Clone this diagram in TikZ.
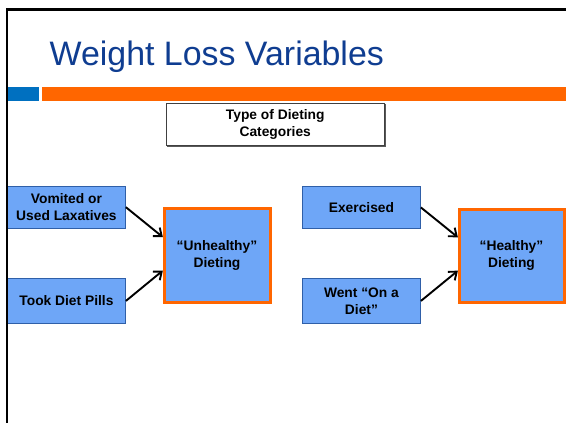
\documentclass[tikz,border=0pt]{standalone}
\usepackage{fontspec}
\setmainfont{Liberation Sans}
\usetikzlibrary{arrows.meta,calc}
\definecolor{titleblue}{HTML}{0F3D91}
\definecolor{barblue}{HTML}{0070C0}
\definecolor{barorange}{HTML}{FF6600}
\definecolor{boxfill}{HTML}{6EA6F7}
\definecolor{boxdraw}{HTML}{2F5FA8}
\begin{document}
\begin{tikzpicture}[x=1pt,y=-1pt,
  smallbox/.style={draw=boxdraw, line width=0.9pt, fill=boxfill, inner sep=0pt,
    minimum width=118pt, anchor=north west, align=center,
    font=\fontsize{13.8}{16.8}\selectfont\bfseries},
  bigbox/.style={draw=barorange, line width=3pt, fill=boxfill, inner sep=0pt,
    anchor=north west, align=center,
    font=\fontsize{13.8}{16.8}\selectfont\bfseries},
  catbox/.style={draw=black!75, line width=1.1pt, fill=white, inner sep=0pt,
    anchor=north west, align=center,
    font=\fontsize{13.8}{17.4}\selectfont\bfseries},
  conn/.style={line width=1.9pt, -{Straight Barb[length=7pt,width=11pt]}, shorten >=-0.5pt}
]
\fill[white] (0,0) rectangle (566,423);
\useasboundingbox (0,0) rectangle (566,423);

% title and bars
\node[anchor=base west, inner sep=0pt, text=titleblue,
  font=\fontsize{33.9}{40}\selectfont] (title) at (49.5,65) {Weight Loss Variables};
\fill[barblue] (8.3,87) rectangle (38.7,101.3);
\fill[barorange] (42,87) rectangle (566,101.3);

% category box (slightly heavier right and bottom edges)
\node[catbox, minimum width=218pt, minimum height=41.5pt] (cat) at (165.7,103)
  {Type of Dieting\\Categories};
\draw[black!65, line width=1pt] ([xshift=0.8pt,yshift=-0.8pt]cat.north east)
  -- ([xshift=0.8pt,yshift=-0.8pt]cat.south east) -- ([xshift=0.8pt,yshift=-0.8pt]cat.south west);

% left group
\node[smallbox, minimum height=41.5pt] (vom) at (7,186) {Vomited or\\Used Laxatives};
\node[smallbox, minimum height=45pt] (pills) at (7,278) {Took Diet Pills};
\node[bigbox, minimum width=106pt, minimum height=93.3pt] (unh) at (162.5,207.2)
  {“Unhealthy”\\Dieting};

% right group
\node[smallbox, minimum height=42pt] (ex) at (302,186) {Exercised};
\node[smallbox, minimum height=45pt] (diet) at (302,278) {Went “On a\\Diet”};
\node[bigbox, minimum width=105pt, minimum height=93pt] (hea) at (457.5,207.5)
  {“Healthy”\\Dieting};

% connectors
\draw[conn] (vom.east) -- ($(unh.west)+(0,-18.5)$);
\draw[conn] (pills.east) -- ($(unh.west)+(0,15.5)$);
\draw[conn] (ex.east) -- ($(hea.west)+(0,-18.5)$);
\draw[conn] (diet.east) -- ($(hea.west)+(0,15.5)$);

% slide frame
\draw[line width=3pt] (6,9.5) -- (566,9.5);
\draw[line width=2.4pt] (7.2,8) -- (7.2,423);
\end{tikzpicture}
\end{document}
